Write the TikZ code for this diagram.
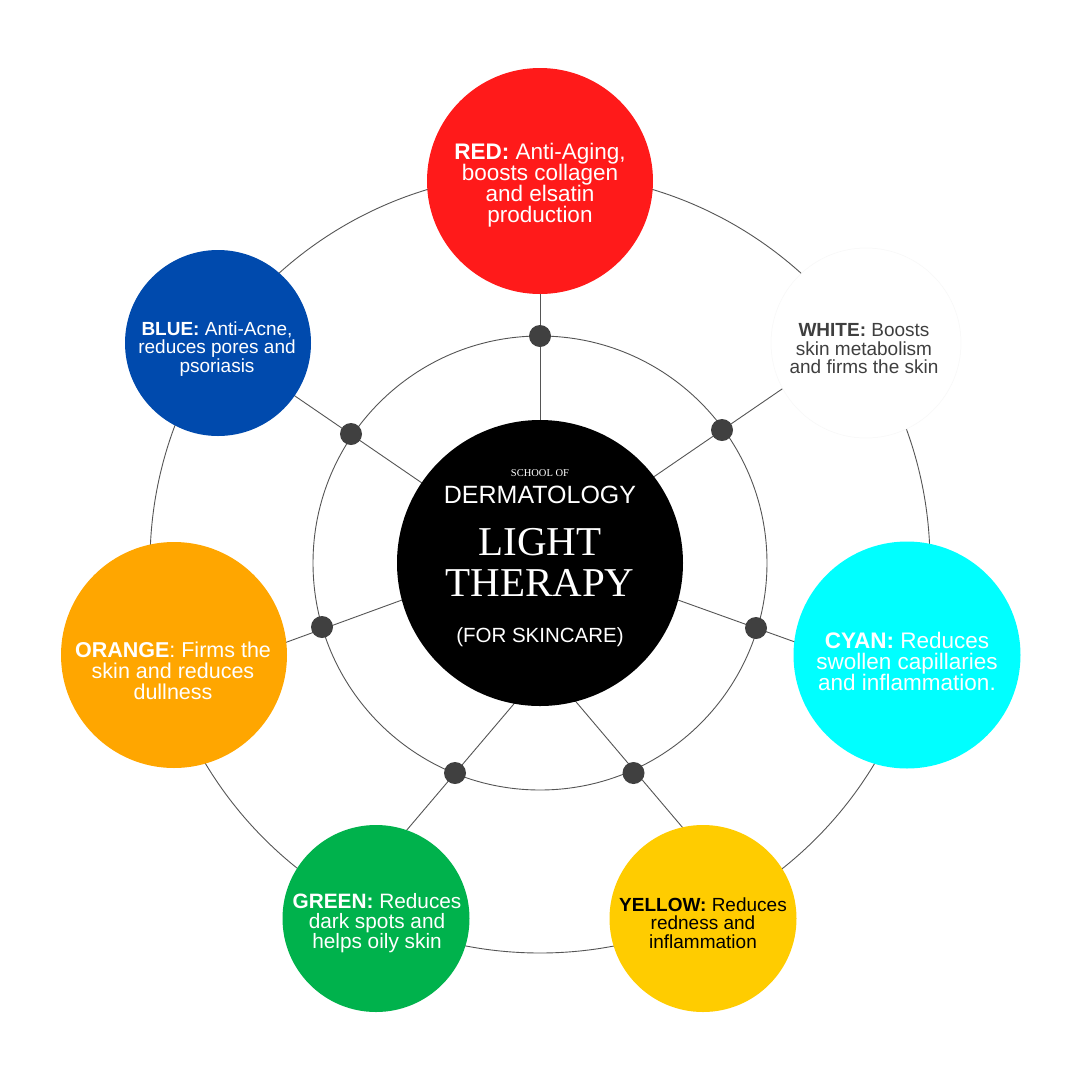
\documentclass[tikz,border=0pt]{standalone}
\usepackage{fontspec}
\setmainfont{Liberation Sans}
\newfontfamily\serifF{Liberation Serif}
\definecolor{cRed}{HTML}{FF1A1A}
\definecolor{cBlue}{HTML}{004AAD}
\definecolor{cOrange}{HTML}{FFA600}
\definecolor{cCyan}{HTML}{00FFFF}
\definecolor{cGreen}{HTML}{00B24C}
\definecolor{cYellow}{HTML}{FFCC00}
\definecolor{dotgray}{HTML}{404040}
\definecolor{linegray}{HTML}{555555}
\definecolor{whitetxt}{HTML}{3F3F3F}
\begin{document}
\begin{tikzpicture}[x=1pt,y=-1pt,
  ring/.style={draw=linegray, line width=0.9pt},
  spoke/.style={draw=linegray, line width=0.9pt},
  disc/.style={circle, inner sep=0pt, draw=none},
  dotn/.style={circle, fill=dotgray, inner sep=0pt, minimum size=22pt},
  lbl/.style={align=center, inner sep=0pt},
  bigtxt/.style={font=\fontsize{22.5}{21}\selectfont},
  orgtxt/.style={font=\fontsize{21.5}{21}\selectfont},
  midtxt/.style={font=\fontsize{20.8}{20}\selectfont},
  smalltxt/.style={font=\fontsize{19}{18.5}\selectfont}]
\fill[white] (0,0) rectangle (1080,1080);
\useasboundingbox (0,0) rectangle (1080,1080);

% centres
\coordinate (hubc) at (540,563);
\coordinate (redc) at (540,181);
\coordinate (whitec) at (866,343);
\coordinate (cyanc) at (907,655);
\coordinate (yellowc) at (703,918.5);
\coordinate (greenc) at (376,918.5);
\coordinate (orangec) at (174,655);
\coordinate (bluec) at (218,343);

% spoke end points
\coordinate (p1) at (540,563);     \coordinate (q1) at (540,181);
\coordinate (p2) at (591.5,519.5); \coordinate (q2) at (820,363);
\coordinate (p3) at (619.5,579);   \coordinate (q3) at (853.5,663);
\coordinate (p4) at (545.5,665.8); \coordinate (q4) at (713.5,864);
\coordinate (p5) at (544.8,667.5); \coordinate (q5) at (375,867.5);
\coordinate (p6) at (459.5,579);   \coordinate (q6) at (229.5,663);
\coordinate (p7) at (485.5,526.5); \coordinate (q7) at (257,370);

% rings
\draw[ring] (hubc) circle[radius=390pt];
\draw[ring] (hubc) circle[radius=227pt];

% spokes
\foreach \i in {1,...,7} { \draw[spoke] (p\i) -- (q\i); }

% dots
\node[dotn] (d1) at (540,336) {};
\node[dotn] (d2) at (722,430) {};
\node[dotn] (d3) at (756,628) {};
\node[dotn] (d4) at (633.5,773) {};
\node[dotn] (d5) at (455,773) {};
\node[dotn] (d6) at (322,627) {};
\node[dotn] (d7) at (351,434) {};

% coloured discs
\node[disc, fill=cRed, minimum size=226pt] (red) at (redc) {};
\node[disc, fill=white, draw=black!3, line width=0.5pt, minimum size=190pt] (white) at (whitec) {};
\node[disc, fill=cCyan, minimum size=227pt] (cyan) at (cyanc) {};
\node[disc, fill=cYellow, minimum size=187pt] (yellow) at (yellowc) {};
\node[disc, fill=cGreen, minimum size=187pt] (green) at (greenc) {};
\node[disc, fill=cOrange, minimum size=226pt] (orange) at (orangec) {};
\node[disc, fill=cBlue, minimum size=186pt] (blue) at (bluec) {};

% hub
\node[disc, fill=black, minimum size=286pt] (hub) at (hubc) {};

% labels
\node[lbl, bigtxt, text=white] (tred) at (540,185) {\textbf{RED:} Anti-Aging,\\boosts collagen\\and elsatin\\production};
\node[lbl, smalltxt, text=whitetxt] (twhite) at (864,349) {\textbf{WHITE:} Boosts\\skin metabolism\\and firms the skin};
\node[lbl, bigtxt, text=white] (tcyan) at (907,661) {\textbf{CYAN:} Reduces\\swollen capillaries\\and inflammation.};
\node[lbl, smalltxt, text=black] (tyellow) at (703,923) {\textbf{YELLOW:} Reduces\\redness and\\inflammation};
\node[lbl, midtxt, text=white] (tgreen) at (377,923) {\textbf{GREEN:} Reduces\\dark spots and\\helps oily skin};
\node[lbl, orgtxt, text=white] (torange) at (173,671) {\textbf{ORANGE}: Firms the\\skin and reduces\\dullness};
\node[lbl, smalltxt, text=white] (tblue) at (217,349) {\textbf{BLUE:} Anti-Acne,\\reduces pores and\\psoriasis};

% hub texts
\node[lbl, text=white, font=\serifF\fontsize{10.5}{10.5}\selectfont] (school) at (540,473) {SCHOOL OF};
\node[lbl, text=white, font=\fontsize{25}{25}\selectfont] (derm) at (540,495) {DERMATOLOGY};
\node[lbl, text=white, font=\serifF\fontsize{41}{41}\selectfont] (light) at (540,542) {LIGHT};
\node[lbl, text=white, font=\serifF\fontsize{41}{41}\selectfont] (therapy) at (540,583) {THERAPY};
\node[lbl, text=white, font=\fontsize{20.5}{20.5}\selectfont] (forskin) at (540,637) {(FOR SKINCARE)};
\end{tikzpicture}
\end{document}
